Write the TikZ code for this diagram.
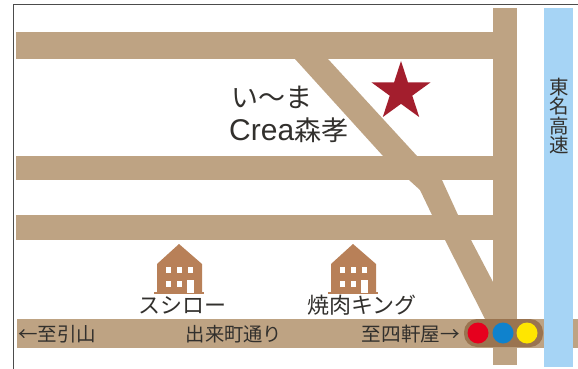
\documentclass[tikz,border=0pt]{standalone}
\usepackage{fontspec}
\setmainfont{Liberation Sans}
\newfontfamily\jp{Noto Sans CJK JP}
\usetikzlibrary{shapes.geometric}
\definecolor{road}{RGB}{190,163,131}
\definecolor{hwy}{RGB}{166,212,245}
\definecolor{house}{RGB}{184,128,88}
\definecolor{sigbg}{RGB}{154,116,80}
\definecolor{ink}{RGB}{50,48,45}
\definecolor{starc}{RGB}{163,30,45}
\tikzset{
  roadshape/.style={fill=road,draw=none},
  housebody/.style={fill=house,draw=none},
  housewin/.style={fill=white,draw=none},
  lamp/.style={circle,minimum size=21pt,inner sep=0pt,draw=none},
  lbl/.style={text=ink,inner sep=0pt,font=\jp},
}
\newcommand{\fs}[1]{\fontsize{#1}{#1}\selectfont}
\newcommand{\bldg}[1]{%
  \begin{scope}[xshift=#1pt]
    \fill[housebody] (0,244) -- (23,264) -- (23,293) -- (-22,293) -- (-22,264) -- cycle;
    \fill[housebody] (-25,292) rectangle (25,294);
    \fill[housewin] (-13,267) rectangle (-8,273);
    \fill[housewin] (-2,267) rectangle (3,273);
    \fill[housewin] (9,267) rectangle (14,273);
    \fill[housewin] (-13,281) rectangle (-8,287);
    \fill[housewin] (-2,281) rectangle (3,287);
    \fill[housewin] (8,280) rectangle (14.5,293);
  \end{scope}}
\begin{document}
\begin{tikzpicture}[x=1pt,y=-1pt]
\useasboundingbox (0,0) rectangle (578,369);
\fill[white] (0,0) rectangle (578,369);
% frame
\draw[line width=0.9pt,draw=black!70] (13.5,369) -- (13.5,4) -- (578,4);
% far-right stub of the street, then expressway
\fill[roadshape] (517,319) rectangle (578,348);
\fill[hwy] (544,8) rectangle (573,367);
% roads
\fill[roadshape] (16,32) rectangle (493,59);
\fill[roadshape] (16,156) rectangle (493,180);
\fill[roadshape] (16,215) rectangle (493,240);
\fill[roadshape] (17,319) rectangle (493,348);
\fill[roadshape] (493,8) rectangle (517,365);
% diagonal road
\fill[roadshape] (295,59) -- (328,59) -- (417,156) -- (417,180) -- (442,180)
  -- (458,215) -- (458,240) -- (471,240) -- (493,282) -- (493,319) -- (485,319)
  -- (445,240) -- (432,215) -- (420,190) -- (409,180) -- (383,156) -- cycle;
% star
\node[star,star points=5,star point ratio=2.618,minimum size=62pt,inner sep=0pt,fill=starc,draw=none] (shop) at (401,92) {};
% buildings
\bldg{179}
\bldg{353}
% signal
\fill[sigbg,rounded corners=13pt] (464,319) rectangle (543,347);
\node[lamp,fill={rgb,255:red,230;green,0;blue,30}] (red) at (478,333) {};
\node[lamp,fill={rgb,255:red,15;green,130;blue,205}] (blue) at (503,333) {};
\node[lamp,fill={rgb,255:red,255;green,230;blue,0}] (yellow) at (527,333) {};
% labels
\node[lbl,anchor=west] (name1) at (231,97) {\fs{27}い〜ま};
\node[lbl,anchor=west] (name2) at (229,130) {\fs{30}\rmfamily Crea\fs{27}\jp 森孝};
\node[lbl,align=center,font=\jp\fs{19.5}] (hw) at (559,116) {東\\名\\高\\速};
\node[lbl] (sushi) at (182,305) {\fs{22}スシロー};
\node[lbl] (king) at (362,305) {\fs{22}焼肉キング};
\node[lbl,anchor=west] (left) at (18,334) {\fs{19.5}←至引山};
\node[lbl] (street) at (234,334) {\fs{19.3}出来町通り};
\node[lbl,anchor=east] (right) at (460,334) {\fs{19.6}至四軒屋→};
\end{tikzpicture}
\end{document}
